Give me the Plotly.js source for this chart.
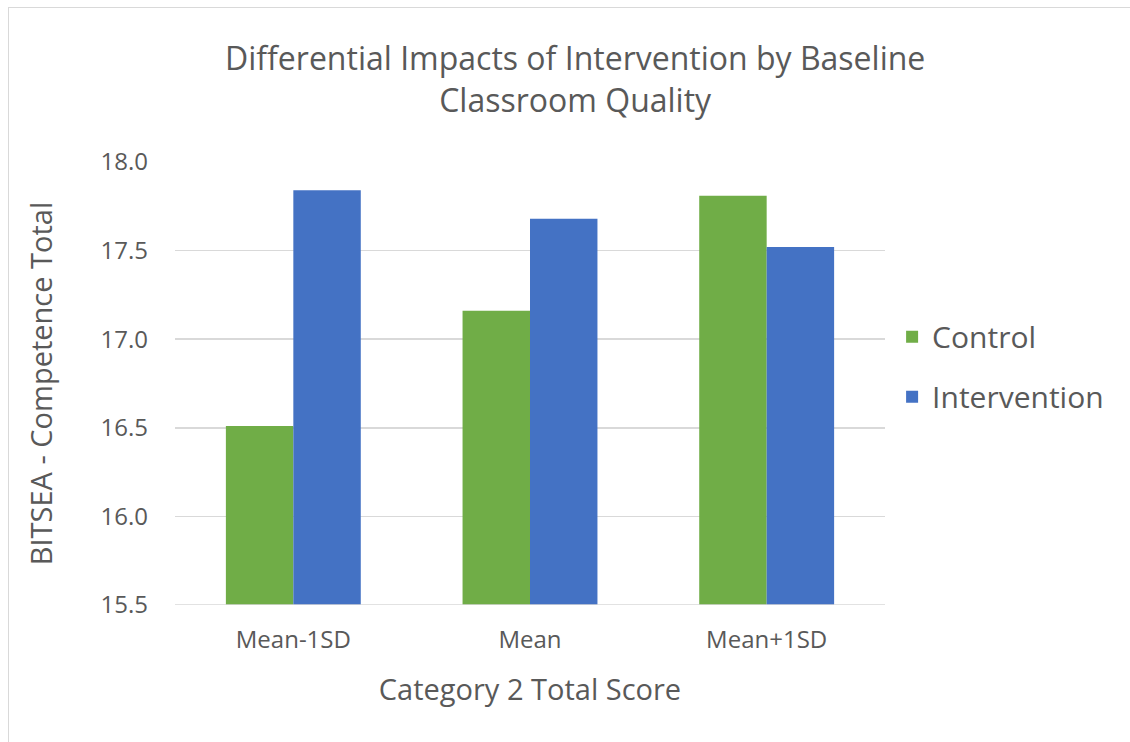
<!DOCTYPE html>
<html>
<head>
<meta charset="utf-8">
<script src="https://cdn.plot.ly/plotly-3.0.1.min.js"></script>
<style>
html,body{margin:0;padding:0;background:#fff;}
#frame{position:absolute;left:8px;top:7px;width:1200px;height:800px;border-left:1.5px solid #d9d9d9;border-top:1.5px solid #d9d9d9;pointer-events:none;}
#chart{width:1130px;height:742px;}
</style>
</head>
<body>
<div id="chart"></div>
<div id="frame"></div>
<script>
const categories = ["Mean-1SD", "Mean", "Mean+1SD"];
const controlValues = [16.51, 17.16, 17.81];
const interventionValues = [17.84, 17.68, 17.52];
const seriesNames = ["Control", "Intervention"];
const yTicks = [15.5, 16.0, 16.5, 17.0, 17.5, 18.0];

const font = "Open Sans, Noto Sans, sans-serif";
const txt = "#595959";

const traces = [
  {type: "bar", name: seriesNames[0], x: categories, y: controlValues, marker: {color: "#70ad47"}, legendgroup: "a", hoverinfo: "y"},
  {type: "bar", name: seriesNames[1], x: categories, y: interventionValues, marker: {color: "#4472c4"}, legendgroup: "b", hoverinfo: "y"}
];

const layout = {
  width: 1130, height: 742,
  paper_bgcolor: "#fff", plot_bgcolor: "#fff",
  margin: {l: 175, r: 245, t: 162, b: 137},
  font: {family: font, color: txt},
  title: {text: "Differential Impacts of Intervention by Baseline<br>Classroom Quality", font: {size: 32, color: txt, family: font}, x: 0.509, xanchor: "center", xref: "container", y: 0.905, yanchor: "top"},
  barmode: "group", bargap: 0.43, bargroupgap: 0,
  xaxis: {
    type: "category", showgrid: false, zeroline: false, showline: false, ticks: "",
    tickfont: {size: 24, color: txt}, ticklabelstandoff: 18,
    title: {text: "Category 2 Total Score", font: {size: 29, color: txt}, standoff: 25}
  },
  yaxis: {
    range: [15.5, 18.0], tickvals: yTicks, ticktext: yTicks.map(v => v.toFixed(1)),
    showgrid: true, gridcolor: "#d9d9d9", gridwidth: 1.5, zeroline: false, showline: false, ticks: "",
    tickfont: {size: 24, color: txt}, ticklabelstandoff: 26,
    title: {text: "BITSEA - Competence Total", font: {size: 29, color: txt}, standoff: 39}
  },
  showlegend: true,
  legend: {x: 1.01, xanchor: "left", y: 0.538, yanchor: "middle", font: {size: 30, color: txt}, traceorder: "grouped", tracegroupgap: 18, itemwidth: 30, bgcolor: "rgba(0,0,0,0)"},
  shapes: [
    {type: "line", xref: "paper", yref: "y", x0: 0, x1: 1, y0: 15.5, y1: 15.5, line: {color: "#d9d9d9", width: 1.5}}
  ]
};

Plotly.newPlot("chart", traces, layout, {displayModeBar: false, staticPlot: true});
</script>
</body>
</html>
